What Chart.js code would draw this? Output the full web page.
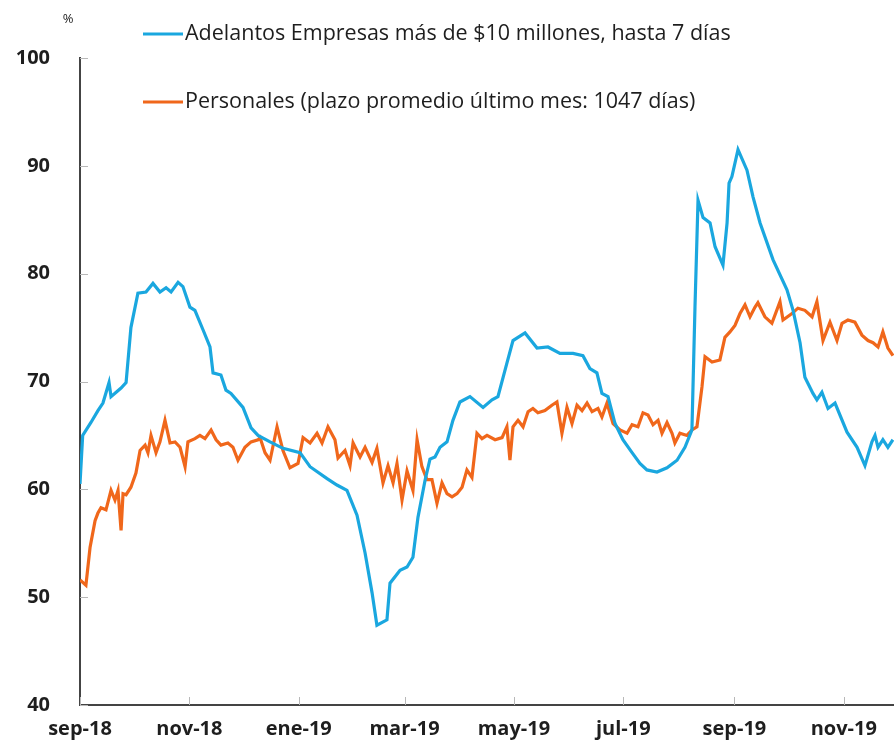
<!DOCTYPE html>
<html lang="es">
<head>
<meta charset="utf-8">
<title>Tasas de interés</title>
<script src="https://cdn.jsdelivr.net/npm/chart.js@4/dist/chart.umd.min.js"></script>
<style>
  html, body { margin: 0; padding: 0; background: #fff; }
  #lienzo { display: block; }
</style>
</head>
<body>
<canvas id="lienzo" width="894" height="743"></canvas>
<script>
// Eje x: días desde el 1 de septiembre de 2018
const diasMeses = [0, 61, 122, 181, 242, 303, 365, 426];
const etiquetasMeses = ['sep-18', 'nov-18', 'ene-19', 'mar-19', 'may-19', 'jul-19', 'sep-19', 'nov-19'];

const nombreAdelantos = 'Adelantos Empresas más de $10 millones, hasta 7 días';
const nombrePersonales = 'Personales (plazo promedio último mes: 1047 días)';

// Adelantos (línea celeste)
const diasAdelantos = [
  0, 1.5, 6.1, 10, 12.8, 16.2, 17.3, 22.9, 25.7, 28.4, 32.3, 36.8, 40.7, 44.6, 48, 50.8, 54.7, 57.4,
  61.3, 64.1, 68.6, 72.5, 74.2, 78.6, 81.4, 84.2, 90.9, 95.4, 99.3, 106, 113.2, 122.7, 128.3, 137.8,
  143.3, 148.9, 154.5, 159, 162.9, 165.6, 171.2, 172.9, 178.5, 182.4, 185.7, 188.5, 192.4, 195.2,
  198, 200.8, 204.7, 208, 211.9, 217.5, 224.8, 229.8, 233.1, 238.1, 241.5, 248.2, 254.9, 261, 267.7,
  275, 280.5, 284.4, 288.3, 291.1, 294.5, 298.4, 302.8, 307.9, 312.3, 316.2, 321.8, 327.4, 333, 337.4,
  341.3, 343, 344.7, 347.5, 351.4, 354.2, 358.6, 360.9, 362, 363.6, 367, 372, 375.4, 379.3, 386.5,
  394.3, 397.7, 401.6, 404.3, 408.8, 411, 413.8, 417.2, 421.1, 427.8, 433.4, 437.8, 441.7, 443.4,
  445.1, 447.8, 450.6, 453.4
];
const valoresAdelantos = [
  60.5, 65.0, 66.2, 67.3, 68.0, 69.9, 68.6, 69.4, 69.9, 75.0, 78.2, 78.3, 79.1, 78.3, 78.7, 78.3, 79.2, 78.8,
  76.9, 76.6, 74.8, 73.2, 70.8, 70.6, 69.2, 68.9, 67.6, 65.7, 65.0, 64.4, 63.8, 63.4, 62.1, 61.0,
  60.4, 59.9, 57.6, 54.1, 50.4, 47.4, 47.9, 51.3, 52.5, 52.8, 53.7, 57.4, 60.8, 62.8,
  63.0, 63.9, 64.4, 66.4, 68.1, 68.6, 67.6, 68.3, 68.6, 71.7, 73.8, 74.5, 73.1, 73.2, 72.6,
  72.6, 72.4, 71.2, 70.8, 68.9, 68.6, 66.1, 64.6, 63.4, 62.4, 61.8, 61.6, 62.0, 62.7, 63.9,
  65.5, 76.9, 86.8, 85.2, 84.7, 82.5, 80.8, 84.7, 88.4, 89.0, 91.5, 89.6, 87.1, 84.7, 81.3,
  78.5, 76.6, 73.6, 70.4, 68.9, 68.3, 69.0, 67.5, 68.0, 65.3, 63.9, 62.2, 64.4, 65.0,
  63.9, 64.6, 63.9, 64.6
];

// Personales (línea naranja)
const diasPersonales = [
  0, 3.3, 5.6, 8.4, 10, 11.7, 14.5, 17.3, 19.5, 21.2, 22.9, 24, 25.7, 28.4, 31.2, 33.5, 36.3, 37.9,
  39.6, 42.4, 44.6, 47.4, 50.2, 53, 55.8, 58.6, 60.2, 64.1, 66.9, 69.7, 73.1, 75.9, 78.6, 82.5, 85.3,
  88.1, 92, 95.4, 99.3, 100.4, 103.2, 106, 109.9, 113.2, 117.1, 121.6, 124.4, 128.3, 132.2, 135,
  138.3, 142.2, 143.9, 147.8, 150.6, 152.3, 156.2, 159, 162.9, 165.6, 169, 171.8, 174.6, 176.8,
  179.6, 182.4, 185.7, 188, 190.7, 193.5, 196.3, 199.1, 201.9, 204.7, 207.5, 210.3, 213.1, 215.8,
  218.6, 221.4, 224.2, 227, 231.5, 235.4, 238.1, 239.8, 241.5, 244.3, 247.1, 249.9, 252.6, 255.4,
  259.3, 263.2, 266, 268.8, 271.6, 274.4, 277.2, 280, 282.8, 285.6, 288.9, 291.1, 293.9, 297.3,
  301.2, 305.1, 307.9, 311.2, 314, 316.8, 319.6, 322.4, 324.6, 327.4, 330.2, 331.8, 334.6, 338.5,
  341.3, 344.1, 346.9, 348.6, 352.5, 356.9, 359.7, 362.5, 365.3, 368.1, 370.9, 373.7, 376.5, 378.1,
  382, 385.9, 390.4, 392.1, 397.1, 400.4, 404.3, 408.3, 411, 414.4, 418.3, 422.2, 425, 428.3, 432.2,
  436.1, 439.5, 442.3, 445.1, 447.8, 450.6, 453.4
];
const valoresPersonales = [
  51.6, 51.1, 54.6, 57.1, 57.8, 58.3, 58.1, 59.9, 59.0, 59.9, 56.2, 59.6, 59.5, 60.2, 61.5, 63.6, 64.1, 63.4,
  65.0, 63.4, 64.4, 66.4, 64.3, 64.4, 63.9, 62.1, 64.4, 64.7, 65.0, 64.7, 65.5, 64.6, 64.1, 64.3, 63.9,
  62.7, 63.9, 64.4, 64.6, 64.8, 63.4, 62.7, 65.8, 63.6, 62.0, 62.4, 64.8, 64.3, 65.2, 64.3,
  65.8, 64.6, 62.9, 63.6, 62.2, 64.3, 63.0, 63.9, 62.5, 63.8, 60.6, 62.2, 60.6, 62.4,
  59.0, 61.7, 59.9, 64.6, 62.1, 60.9, 60.9, 58.7, 60.6, 59.6, 59.3, 59.6, 60.2, 61.8,
  61.1, 65.2, 64.7, 65.0, 64.6, 64.8, 65.8, 62.7, 65.8, 66.4, 65.8, 67.2, 67.5, 67.1,
  67.3, 67.8, 68.1, 65.2, 67.6, 66.1, 67.8, 67.3, 68.0, 67.2, 67.5, 66.7, 68.0, 66.1,
  65.5, 65.2, 66.0, 65.8, 67.1, 66.9, 66.0, 66.4, 65.2, 66.2, 65.2, 64.3, 65.2, 65.0,
  65.5, 65.8, 69.5, 72.3, 71.8, 72.0, 74.1, 74.6, 75.2, 76.3, 77.1, 76.0, 76.9, 77.3,
  76.0, 75.4, 77.4, 75.7, 76.3, 76.8, 76.6, 76.0, 77.4, 73.8, 75.5, 73.8, 75.4, 75.7, 75.5,
  74.3, 73.8, 73.6, 73.2, 74.6, 73.1, 72.4
];

const colorAdelantos = '#1aa7df';
const colorPersonales = '#f0671b';
const colorTexto = '#1e1e1e';
const fuente = '"Open Sans", Lato, sans-serif';

// Une días y valores en puntos {x, y}
function aPuntos(dias, valores) {
  return dias.map((d, i) => ({ x: d, y: valores[i] }));
}

// Leyenda manual, marcas cortas hacia dentro y el "%" de arriba
const extrasGrafico = {
  id: 'extrasGrafico',
  afterDraw(chart) {
    const ctx = chart.ctx;
    const { x, y } = chart.scales;
    ctx.save();

    // marcas de los ejes hacia dentro
    ctx.strokeStyle = '#b8b8b8';
    ctx.lineWidth = 1;
    diasMeses.forEach(d => {
      const px = Math.round(x.getPixelForValue(d)) + 0.5;
      ctx.beginPath();
      ctx.moveTo(px, y.bottom);
      ctx.lineTo(px, y.bottom - 8);
      ctx.stroke();
    });
    y.ticks.forEach(t => {
      const py = Math.round(y.getPixelForValue(t.value)) + 0.5;
      ctx.beginPath();
      ctx.moveTo(x.left, py);
      ctx.lineTo(x.left + 8, py);
      ctx.stroke();
    });

    // unidad
    ctx.fillStyle = colorTexto;
    ctx.font = '13px ' + fuente;
    ctx.textAlign = 'center';
    ctx.textBaseline = 'middle';
    ctx.fillText('%', 68, 19);

    // leyenda
    const filas = [
      { texto: nombreAdelantos, color: colorAdelantos, yy: 34 },
      { texto: nombrePersonales, color: colorPersonales, yy: 102 }
    ];
    filas.forEach(f => {
      ctx.strokeStyle = f.color;
      ctx.lineWidth = 3;
      ctx.beginPath();
      ctx.moveTo(143, f.yy);
      ctx.lineTo(183, f.yy);
      ctx.stroke();
      ctx.fillStyle = colorTexto;
      ctx.font = '21.5px ' + fuente;
      ctx.textAlign = 'left';
      ctx.fillText(f.texto, 185, f.yy);
    });
    ctx.restore();
  }
};

new Chart(document.getElementById('lienzo'), {
  type: 'line',
  data: {
    datasets: [
      {
        label: nombreAdelantos,
        data: aPuntos(diasAdelantos, valoresAdelantos),
        borderColor: colorAdelantos,
        borderWidth: 3.2,
        pointRadius: 0,
        tension: 0
      },
      {
        label: nombrePersonales,
        data: aPuntos(diasPersonales, valoresPersonales),
        borderColor: colorPersonales,
        borderWidth: 3.2,
        pointRadius: 0,
        tension: 0
      }
    ]
  },
  options: {
    responsive: false,
    animation: false,
    devicePixelRatio: 1,
    layout: { padding: { top: 58, right: 0, left: 0, bottom: 0 } },
    plugins: { legend: { display: false }, tooltip: { enabled: false } },
    scales: {
      x: {
        type: 'linear',
        min: 0,
        max: 454,
        afterBuildTicks: s => { s.ticks = diasMeses.map(v => ({ value: v })); },
        afterFit: s => { s.height = 38; },
        grid: { display: false },
        border: { display: true, color: '#444', width: 2 },
        ticks: {
          autoSkip: false,
          maxRotation: 0,
          padding: 4,
          color: colorTexto,
          font: { family: fuente, size: 20, weight: 'bold' },
          callback: (v) => etiquetasMeses[diasMeses.indexOf(v)]
        }
      },
      y: {
        min: 40,
        max: 100,
        afterFit: s => { s.width = 80; },
        grid: { display: false },
        border: { display: true, color: '#444', width: 2 },
        ticks: {
          stepSize: 10,
          padding: 22,
          color: colorTexto,
          font: { family: fuente, size: 20, weight: 'bold' }
        }
      }
    }
  },
  plugins: [extrasGrafico]
});
</script>
</body>
</html>
